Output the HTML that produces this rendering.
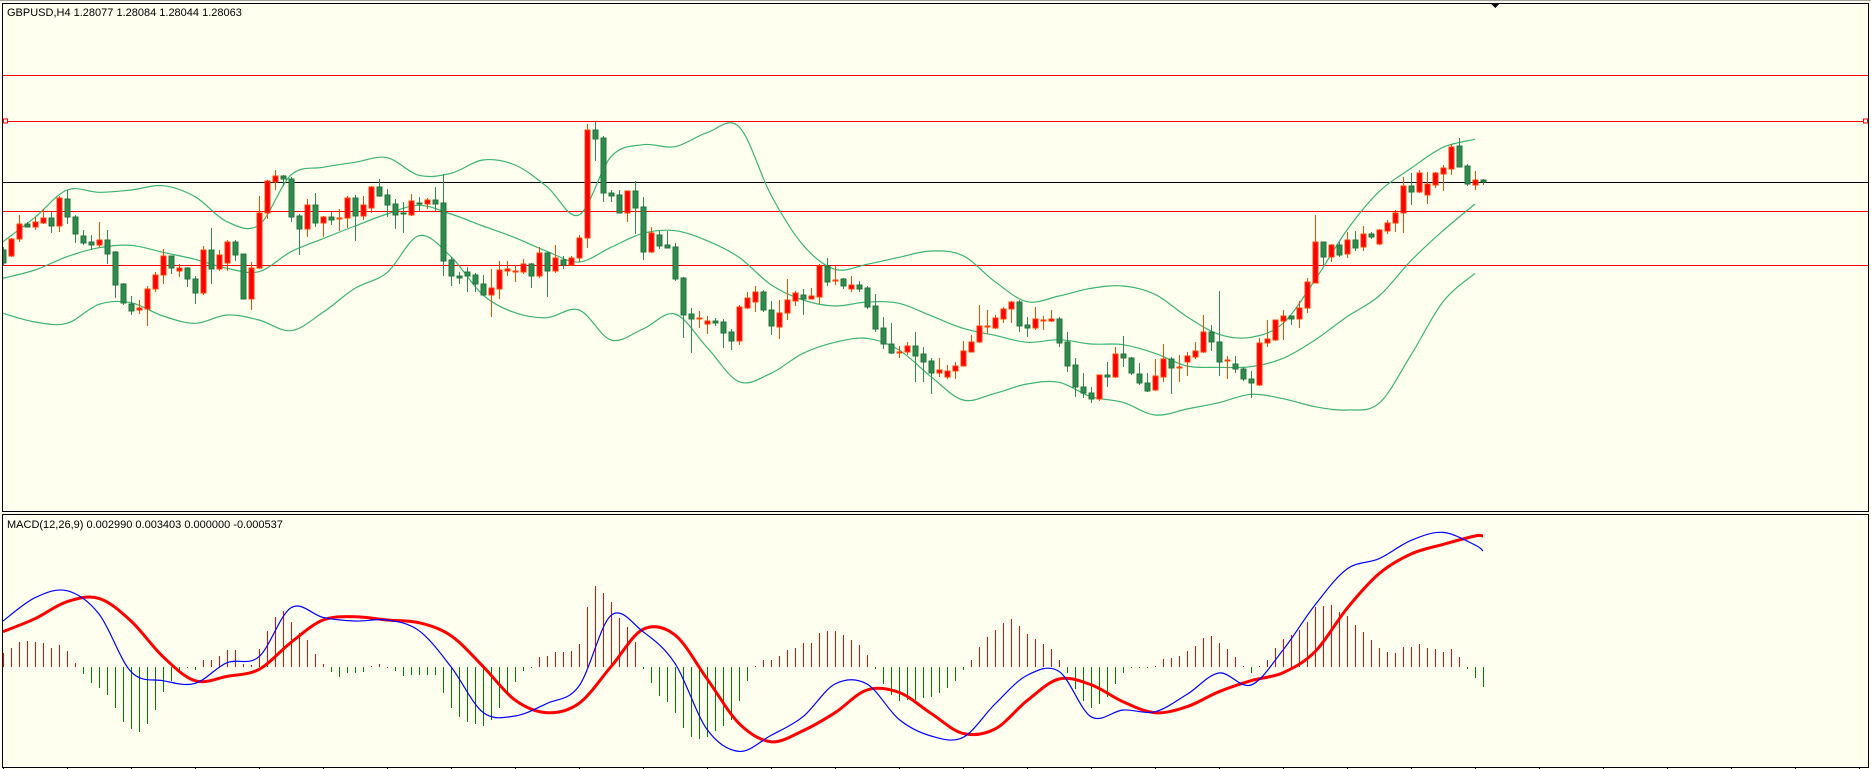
<!DOCTYPE html>
<html><head><meta charset="utf-8"><title>GBPUSD H4</title>
<style>
html,body{margin:0;padding:0;background:#fffff0;}
body{width:1871px;height:769px;overflow:hidden;position:relative;font-family:"Liberation Sans",sans-serif;}
svg{position:absolute;left:0;top:0;}
text{font-family:"Liberation Sans",sans-serif;font-size:11px;fill:#000;}
</style></head>
<body>
<svg id="chart" width="1871" height="769" viewBox="0 0 1871 769" xmlns="http://www.w3.org/2000/svg" shape-rendering="crispEdges">
  <defs>
    <clipPath id="mainClip"><rect x="3" y="4" width="1865" height="507"/></clipPath>
    <clipPath id="macdClip"><rect x="3" y="516" width="1865" height="250"/></clipPath>
  </defs>
  <rect x="0" y="0" width="1871" height="769" fill="#fffff0"/>
  <line x1="0" y1="0.5" x2="1871" y2="0.5" stroke="#a0a0a0"/>
  <rect x="2.5" y="3.5" width="1866" height="508" fill="none" stroke="#000"/>
  <rect x="2.5" y="514.5" width="1866" height="253" fill="none" stroke="#000"/>
  <g id="hlines"></g>
  <g id="bands" clip-path="url(#mainClip)"></g>
  <g id="candles" clip-path="url(#mainClip)"></g>
  <g id="macd" clip-path="url(#macdClip)"></g>
  <g id="xticks"></g>
  <polygon points="1491,4 1499,4 1495,8" fill="#000"/>
  <text x="7" y="16">GBPUSD,H4  1.28077 1.28084 1.28044 1.28063</text>
  <text x="7" y="528">MACD(12,26,9) 0.002990 0.003403 0.000000 -0.000537</text>
</svg>
<script>
// ---- price data (points, 1 point = 0.00001) ----
const openPts = [127880,
127862,127912,127958,127948,127962,127975,127953,128032,127980,127922,
127904,127896,127910,127874,127778,127718,127700,127704,127762,127804,
127862,127818,127826,127792,127752,127880,127822,127842,127904,127868,
127734,127826,127990,128084,128102,128092,127982,127942,128015,127960,
127979,127972,127975,128036,127983,128007,128069,128045,128018,127990,
127985,128021,128019,128030,128020,127850,127802,127813,127805,127778,
127745,127764,127818,127813,127815,127838,127803,127870,127818,127850,
127835,127855,127915,128240,128216,128050,128045,127992,128057,128008,
127875,127925,127895,127889,127795,127687,127674,127659,127667,127663,
127634,127608,127707,127725,127753,127700,127650,127690,127728,127744,
127734,127740,127833,127788,127792,127762,127775,127765,127711,127645,
127597,127570,127573,127591,127568,127546,127512,127500,127516,127533,
127575,127603,127650,127647,127674,127702,127723,127655,127647,127668,
127667,127672,127603,127534,127469,127450,127432,127504,127500,127567,
127556,127507,127480,127460,127500,127553,127526,127545,127560,127575,
127634,127604,127547,127538,127523,127493,127475,127600,127610,127668,
127682,127674,127705,127782,127904,127858,127895,127867,127910,127888,
127928,127897,127938,127960,127990,128072,128055,128044,128076,128109,
128124,128192,128132,128074,128090];
const highPts = [127890,
127917,127985,127965,127980,128002,127995,128042,128060,127985,127940,
127925,127964,127940,127876,127780,127742,127730,127772,127815,127882,
127862,127838,127830,127802,127892,127946,127880,127910,127910,127868,
127844,128042,128090,128120,128104,128100,127988,128034,128050,127982,
127995,128004,128042,128045,128042,128072,128092,128062,128032,128025,
128048,128040,128035,128068,128108,127860,127814,127828,127810,127805,
127822,127847,127847,127836,127853,127840,127888,127873,127895,127862,
127862,127925,128258,128264,128222,128060,128060,128057,128087,128038,
127948,127938,127938,127900,127798,127705,127697,127682,127676,127672,
127644,127715,127754,127772,127759,127727,127730,127792,127757,127762,
127765,127838,127856,127833,127795,127802,127786,127772,127747,127678,
127660,127592,127603,127634,127588,127555,127555,127534,127545,127608,
127624,127715,127700,127685,127708,127728,127730,127678,127708,127682,
127700,127678,127634,127555,127510,127470,127505,127543,127588,127622,
127560,127540,127510,127552,127597,127560,127565,127575,127603,127686,
127655,127757,127562,127562,127530,127517,127616,127670,127670,127700,
127682,127727,127797,127985,127904,127898,127904,127934,127938,127952,
127933,127942,127970,128000,128100,128112,128120,128115,128115,128135,
128199,128216,128138,128117,128093];
const lowPts = [127835,
127860,127905,127948,127940,127958,127932,127935,127958,127902,127895,
127880,127885,127838,127736,127715,127686,127688,127652,127755,127778,
127808,127800,127770,127718,127744,127778,127818,127818,127848,127734,
127700,127822,127972,128060,128072,127965,127865,127918,127948,127918,
127955,127938,127945,127908,127970,127990,128038,127978,127943,127932,
127982,127998,128004,127998,127802,127772,127778,127755,127755,127742,
127680,127734,127803,127784,127808,127767,127797,127740,127810,127823,
127832,127845,127885,128148,128025,128025,127992,127965,127928,127850,
127872,127882,127887,127788,127616,127572,127646,127628,127652,127587,
127580,127595,127704,127695,127695,127625,127614,127670,127712,127686,
127732,127718,127773,127776,127764,127755,127755,127704,127635,127582,
127567,127555,127565,127485,127485,127448,127500,127492,127492,127532,
127573,127602,127628,127642,127662,127662,127635,127620,127640,127640,
127664,127590,127515,127440,127435,127422,127428,127470,127497,127530,
127505,127475,127455,127458,127485,127447,127485,127503,127552,127572,
127578,127503,127494,127512,127488,127435,127472,127590,127608,127610,
127655,127647,127692,127780,127835,127844,127860,127856,127878,127878,
127914,127895,127928,127934,127932,128015,128052,128018,128067,128058,
128104,128128,128073,128060,128076];
const closePts = [127840,
127912,127958,127950,127963,127975,127953,128036,127980,127927,127902,
127896,127910,127868,127776,127722,127698,127706,127762,127805,127862,
127827,127826,127792,127752,127880,127822,127864,127904,127866,127734,
127826,127990,128087,128102,128092,127980,127942,128015,127960,127978,
127971,127975,128036,127983,128014,128069,128043,128015,127986,127988,
128027,128019,128030,128018,127848,127803,127795,127803,127777,127745,
127765,127820,127822,127816,127838,127803,127870,127818,127855,127835,
127855,127916,128240,128214,128052,128043,127992,128057,128007,127875,
127930,127892,127887,127793,127686,127673,127677,127667,127662,127632,
127608,127708,127735,127753,127700,127653,127690,127730,127750,127734,
127742,127833,127785,127790,127773,127775,127764,127710,127644,127597,
127572,127574,127591,127563,127545,127512,127520,127516,127533,127576,
127603,127651,127651,127675,127702,127723,127653,127647,127672,127670,
127672,127602,127533,127468,127452,127432,127504,127500,127567,127555,
127512,127480,127458,127502,127553,127525,127528,127562,127577,127634,
127603,127545,127550,127522,127492,127480,127601,127613,127669,127682,
127674,127706,127784,127904,127858,127896,127866,127910,127887,127928,
127920,127940,127961,127991,128072,128055,128111,128078,128111,128126,
128189,128130,128079,128090,128084];

// Bollinger bands, sampled every 4 bars (bar 0,4,...,184)
const bandStep = 4;
const bandUpper = [127905,127978,128060,128053,128060,128073,128040,127965,127955,128105,128128,128143,128157,
128104,128110,128150,128135,128070,127985,128160,128196,128190,128232,128250,128045,
127895,127822,127837,127858,127877,127863,127785,127725,127742,127765,127772,127747,
127680,127627,127618,127660,127790,127940,128055,128125,128188,128212];
const bandMiddle = [127795,127820,127860,127887,127894,127873,127852,127825,127815,127875,127914,127952,127988,
128014,127988,127952,127917,127876,127844,127888,127930,127938,127908,127858,127776,
127730,127712,127724,127720,127683,127645,127624,127603,127611,127598,127596,127570,
127532,127528,127530,127555,127610,127680,127742,127848,127938,128018];
const bandLower = [127690,127664,127660,127717,127722,127682,127660,127685,127670,127638,127693,127765,127812,
127923,127860,127745,127692,127677,127700,127610,127643,127688,127588,127485,127510,
127570,127603,127615,127580,127500,127430,127450,127478,127483,127440,127423,127385,
127403,127422,127447,127434,127410,127400,127420,127565,127725,127810];

// Horizontal levels (points)
const levelsRed = [128405,128267,127997,127835];
const levelBlack = 128084;

// MACD (points, 1 point = 0.00001)
const macdHist = [40,56,75,77,75,71,56,65,48,11,
-22,-48,-63,-84,-123,-165,-188,-195,-172,-130,
-75,-42,-13,-2,-10,20,20,32,50,50,
8,5,52,108,148,167,135,100,80,38,
8,-15,-30,-18,-20,-15,2,8,0,-12,
-28,-25,-25,-25,-25,-78,-125,-152,-165,-173,
-177,-160,-123,-77,-45,-12,-1,30,32,44,
44,48,68,180,242,222,195,145,120,75,
-6,-50,-87,-105,-138,-185,-212,-218,-210,-192,
-177,-160,-103,-42,2,20,20,32,50,55,
71,71,102,107,107,95,80,65,35,-6,
-52,-85,-102,-100,-100,-93,-90,-78,-63,-42,
-10,20,58,90,110,132,142,122,98,82,
68,52,20,-20,-68,-102,-125,-112,-92,-52,
-18,-1,-1,-3,1,23,27,32,47,62,
85,92,72,53,29,2,-18,2,20,55,
83,95,110,133,180,183,185,163,152,125,
105,80,55,45,42,60,60,68,57,53,
45,53,30,-7,-33,-60];
// main & signal lines sampled every 4 bars, plus the last bar (185)
const macdMain = [137,207,228,158,-15,-42,-50,12,30,177,148,137,140,
108,0,-137,-148,-110,-58,154,105,10,-188,-254,-206,
-150,-52,-52,-158,-208,-212,-112,-26,-14,-150,-130,-135,
-83,-19,-55,50,185,293,324,379,403,365,347];
const macdSignal = [105,144,195,205,137,30,-42,-29,-8,73,140,150,140,
132,93,1,-100,-138,-110,0,112,95,-36,-170,-225,
-192,-138,-70,-77,-140,-200,-187,-102,-37,-54,-105,-138,
-120,-75,-42,-18,45,175,279,338,367,392,392];
const lastBar = 185;

// ---- axes ----
const NS = 'http://www.w3.org/2000/svg';
function xOf(i){ return 3 + 8*i; }
function yPrice(p){ return 110 + (128300 - p)/3; }
function yMacd(v){ return 666.7 - v/3; }
function mk(tag, attrs, parent){
  const e = document.createElementNS(NS, tag);
  for (const k in attrs) e.setAttribute(k, attrs[k]);
  parent.appendChild(e);
  return e;
}
// smooth curve (Catmull-Rom -> cubic Bezier) through points
function smoothPath(pts){
  let d = 'M' + pts[0][0].toFixed(1) + ',' + pts[0][1].toFixed(1);
  for (let i = 0; i < pts.length - 1; i++) {
    const p0 = pts[Math.max(0, i-1)], p1 = pts[i], p2 = pts[i+1], p3 = pts[Math.min(pts.length-1, i+2)];
    const t = 1/6;
    const c1x = p1[0] + (p2[0]-p0[0])*t, c1y = p1[1] + (p2[1]-p0[1])*t;
    const c2x = p2[0] - (p3[0]-p1[0])*t, c2y = p2[1] - (p3[1]-p1[1])*t;
    d += ' C' + c1x.toFixed(1) + ',' + c1y.toFixed(1) + ' ' + c2x.toFixed(1) + ',' + c2y.toFixed(1) + ' ' + p2[0].toFixed(1) + ',' + p2[1].toFixed(1);
  }
  return d;
}

// horizontal lines
const hl = document.getElementById('hlines');
levelsRed.forEach((p, i) => {
  const y = Math.round(yPrice(p)) + 0.5;
  const ln = mk('line', {x1:3, x2:1868, y1:y, y2:y, stroke:'#ff0000', 'stroke-width':1}, hl);
  
  
  if (i === 1) {
    const s1 = mk('rect', {x:3.5, y:y-2.5, width:4, height:4, fill:'#fffff0', stroke:'#ff0000'}, hl);
    
    
    const s2 = mk('rect', {x:1863.5, y:y-2.5, width:4, height:4, fill:'#fffff0', stroke:'#ff0000'}, hl);
    
    
  }
});
{
  const y = Math.round(yPrice(levelBlack)) + 0.5;
  const ln = mk('line', {x1:3, x2:1868, y1:y, y2:y, stroke:'#000', 'stroke-width':1}, hl);
  
  
}

// bands
const bg = document.getElementById('bands');
[[bandUpper,'band-upper'],[bandMiddle,'band-middle'],[bandLower,'band-lower']].forEach(([arr,name]) => {
  const pts = arr.map((v,i) => [xOf(i*bandStep), yPrice(v)]);
  const pl = mk('path', {d:smoothPath(pts), fill:'none', stroke:'#3cb371', 'stroke-width':1.2, 'shape-rendering':'geometricPrecision'}, bg);
  
  
});

// candles
const cg = document.getElementById('candles');
const n = Math.min(openPts.length, highPts.length, lowPts.length, closePts.length);
for (let i = 0; i < n; i++) {
  const o = openPts[i], h = highPts[i], l = lowPts[i], c = closePts[i];
  const up = c >= o;
  const x = xOf(i);
  const wickCol = up ? '#ff4500' : '#2e8b57';
  const yh = Math.round(yPrice(h)), yl = Math.round(yPrice(l));
  const wk = mk('rect', {x:x, y:yh, width:1, height:Math.max(1, yl-yh), fill:wickCol}, cg);
  
  
  const yt = Math.round(yPrice(Math.max(o,c))), yb = Math.round(yPrice(Math.min(o,c)));
  const bd = mk('rect', {x:x-2, y:yt, width:5, height:Math.max(1, yb-yt),
    fill: up ? '#ff0000' : '#2e8b4e', stroke: up ? '#ff4000' : '#25703f', 'stroke-width':0.6}, cg);
  
  
}

// MACD
const mg = document.getElementById('macd');
macdHist.forEach((v, i) => {
  const x = xOf(i);
  const y0 = 667, y1 = Math.round(yMacd(v));
  const top = Math.min(y0, y1), hgt = Math.max(1, Math.abs(y1 - y0));
  const r = mk('rect', {x:x, y:top, width:1, height:hgt, fill: v >= 0 ? '#ff0000' : '#008000'}, mg);
  
  
});
function lineBars(len){ const a = []; for (let i = 0; i < len - 1; i++) a.push(i*4); a.push(lastBar); return a; }
{
  const bars = lineBars(macdSignal.length);
  const pts = macdSignal.map((v,i) => [xOf(bars[i]), yMacd(v)]);
  const pl = mk('path', {d:smoothPath(pts), fill:'none', stroke:'#ff0000', 'stroke-width':3, 'stroke-linejoin':'round', 'shape-rendering':'geometricPrecision'}, mg);
  
  
}
{
  const bars = lineBars(macdMain.length);
  const pts = macdMain.map((v,i) => [xOf(bars[i]), yMacd(v)]);
  const pl = mk('path', {d:smoothPath(pts), fill:'none', stroke:'#0000ff', 'stroke-width':1.2, 'shape-rendering':'geometricPrecision'}, mg);
  
  
}

// x ticks
const xt = document.getElementById('xticks');
for (let t = 0; xOf(t*8) < 1868; t++) {
  const x = xOf(t*8) + 0.5;
  const tk = mk('line', {x1:x, x2:x, y1:767, y2:769, stroke:'#000'}, xt);
  
  
}
</script>
</body></html>
